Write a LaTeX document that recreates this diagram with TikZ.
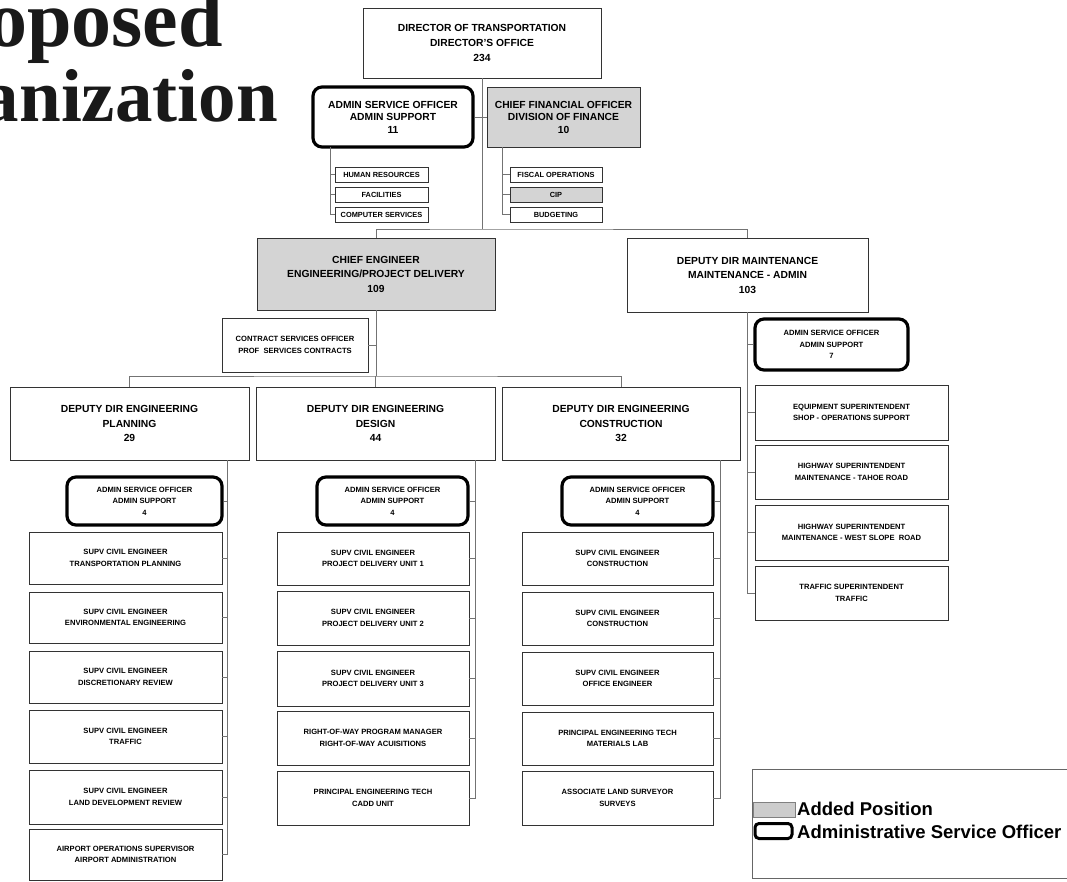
\documentclass[tikz,border=0pt]{standalone}
\usepackage{fontspec}
\setmainfont{Liberation Sans}
\newfontfamily\tms{Liberation Serif}
\usetikzlibrary{shadows}
\newcommand\obox[7]{\node[#6, minimum width={(#4-#2)*1pt}, minimum height={(#5-#3)*1pt}] (#1) at ({(#2+#4)/2},{(#3+#5)/2}) {#7};}
\tikzset{
  bx/.style={draw=black!80, line width=0.7pt, fill=white, align=center, inner sep=0pt,
    drop shadow={shadow xshift=1.3pt, shadow yshift=-1.3pt, fill=black!70, opacity=1}},
  gr/.style={bx, fill=black!17},
  aso/.style={draw=black, line width=3.2pt, rounded corners=9pt, fill=white, align=center, inner sep=0pt},
  ln/.style={draw=black!55, line width=0.8pt},
  fA/.style={font=\bfseries\fontsize{10.3}{15}\selectfont},
  fB/.style={font=\bfseries\fontsize{10.3}{12.5}\selectfont},
  fC/.style={font=\bfseries\fontsize{10.3}{14.5}\selectfont},
  fS/.style={font=\bfseries\fontsize{7.4}{9}\selectfont},
  fL/.style={font=\bfseries\fontsize{7.6}{11.5}\selectfont},
  ttl/.style={anchor=base east, inner sep=0pt, text=black!90},
}
\begin{document}
\begin{tikzpicture}[x=1pt,y=-1pt]
\useasboundingbox (0,0) rectangle (1067,882);
\clip (0,0) rectangle (1067,882);
\fill[white] (0,0) rectangle (1067,882);
% title
\node[ttl, font=\tms\bfseries\fontsize{80}{80}\selectfont] (t1) at (223,47) {oposed};
\node[ttl, font=\tms\bfseries\fontsize{75}{75}\selectfont] (t2) at (278,122) {anization};
% top level
\obox{dir}{363}{8}{601}{78}{bx,fA}{DIRECTOR OF TRANSPORTATION\\DIRECTOR'S OFFICE\\234}
\obox{aso0}{313}{87}{473}{147}{aso,fB}{ADMIN SERVICE OFFICER\\ADMIN SUPPORT\\11}
\obox{cfo}{487}{87}{640}{147}{gr,fB}{CHIEF FINANCIAL OFFICER\\DIVISION OF FINANCE\\10}
\obox{hr}{335}{167}{428}{182}{bx,fS}{HUMAN RESOURCES}
\obox{fac}{335}{187}{428}{202}{bx,fS}{FACILITIES}
\obox{cs}{335}{207}{428}{222}{bx,fS}{COMPUTER SERVICES}
\obox{fo}{510}{167}{602}{182}{bx,fS}{FISCAL OPERATIONS}
\obox{cip}{510}{187}{602}{202}{gr,fS}{CIP}
\obox{bud}{510}{207}{602}{222}{bx,fS}{BUDGETING}
\obox{ce}{257}{238}{495}{310}{gr,fC}{CHIEF ENGINEER\\ENGINEERING/PROJECT DELIVERY\\109}
\obox{dm}{627}{238}{868}{312}{bx,fC}{DEPUTY DIR MAINTENANCE\\MAINTENANCE - ADMIN\\103}
\obox{cso}{222}{318}{368}{372}{bx,fL}{CONTRACT SERVICES OFFICER\\PROF\ \ SERVICES CONTRACTS}
\obox{dp}{10}{387}{249}{460}{bx,fC}{DEPUTY DIR ENGINEERING\\PLANNING\\29}
\obox{dd}{256}{387}{495}{460}{bx,fC}{DEPUTY DIR ENGINEERING\\DESIGN\\44}
\obox{dc}{502}{387}{740}{460}{bx,fC}{DEPUTY DIR ENGINEERING\\CONSTRUCTION\\32}
\obox{ap}{67}{477}{222}{525}{aso,fL}{ADMIN SERVICE OFFICER\\ADMIN SUPPORT\\4}
\obox{ad}{317}{477}{468}{525}{aso,fL}{ADMIN SERVICE OFFICER\\ADMIN SUPPORT\\4}
\obox{ac}{562}{477}{713}{525}{aso,fL}{ADMIN SERVICE OFFICER\\ADMIN SUPPORT\\4}
\obox{am}{755}{319}{908}{370}{aso,fL}{ADMIN SERVICE OFFICER\\ADMIN SUPPORT\\7}
% planning
\obox{p1}{29}{532}{222}{584}{bx,fL}{SUPV CIVIL ENGINEER\\TRANSPORTATION PLANNING}
\obox{p2}{29}{592}{222}{643}{bx,fL}{SUPV CIVIL ENGINEER\\ENVIRONMENTAL ENGINEERING}
\obox{p3}{29}{651}{222}{703}{bx,fL}{SUPV CIVIL ENGINEER\\DISCRETIONARY REVIEW}
\obox{p4}{29}{710}{222}{763}{bx,fL}{SUPV CIVIL ENGINEER\\TRAFFIC}
\obox{p5}{29}{770}{222}{824}{bx,fL}{SUPV CIVIL ENGINEER\\LAND DEVELOPMENT REVIEW}
\obox{p6}{29}{829}{222}{880}{bx,fL}{AIRPORT OPERATIONS SUPERVISOR\\AIRPORT ADMINISTRATION}
% design
\obox{d1}{277}{532}{469}{585}{bx,fL}{SUPV CIVIL ENGINEER\\PROJECT DELIVERY UNIT 1}
\obox{d2}{277}{591}{469}{645}{bx,fL}{SUPV CIVIL ENGINEER\\PROJECT DELIVERY UNIT 2}
\obox{d3}{277}{651}{469}{706}{bx,fL}{SUPV CIVIL ENGINEER\\PROJECT DELIVERY UNIT 3}
\obox{d4}{277}{711}{469}{765}{bx,fL}{RIGHT-OF-WAY PROGRAM MANAGER\\RIGHT-OF-WAY ACUISITIONS}
\obox{d5}{277}{771}{469}{825}{bx,fL}{PRINCIPAL ENGINEERING TECH\\CADD UNIT}
% construction
\obox{c1}{522}{532}{713}{585}{bx,fL}{SUPV CIVIL ENGINEER\\CONSTRUCTION}
\obox{c2}{522}{592}{713}{645}{bx,fL}{SUPV CIVIL ENGINEER\\CONSTRUCTION}
\obox{c3}{522}{652}{713}{705}{bx,fL}{SUPV CIVIL ENGINEER\\OFFICE ENGINEER}
\obox{c4}{522}{712}{713}{765}{bx,fL}{PRINCIPAL ENGINEERING TECH\\MATERIALS LAB}
\obox{c5}{522}{771}{713}{825}{bx,fL}{ASSOCIATE LAND SURVEYOR\\SURVEYS}
% maintenance
\obox{m1}{755}{385}{948}{440}{bx,fL}{EQUIPMENT SUPERINTENDENT\\SHOP - OPERATIONS SUPPORT}
\obox{m2}{755}{445}{948}{499}{bx,fL}{HIGHWAY SUPERINTENDENT\\MAINTENANCE - TAHOE ROAD}
\obox{m3}{755}{505}{948}{560}{bx,fL}{HIGHWAY SUPERINTENDENT\\MAINTENANCE - WEST SLOPE\ \ ROAD}
\obox{m4}{755}{566}{948}{620}{bx,fL}{TRAFFIC SUPERINTENDENT\\TRAFFIC}
% connectors
\coordinate (bus1) at (482,229);
\coordinate (bus2) at (376,376);
\coordinate (ah) at (330,147);
\coordinate (fh) at (502,147);
\coordinate (pl) at (227,460);
\coordinate (dl) at (475,460);
\coordinate (cl) at (720,460);
\draw[ln] (dir.south) -- (bus1);
\draw[ln] (aso0.east) -- (cfo.west);
\draw[ln] (ce.north) |- (bus1) -| (dm.north);
\draw[ln] (ah) |- (cs.west);
\draw[ln] (hr.west) -- (hr.west -| ah);
\draw[ln] (fac.west) -- (fac.west -| ah);
\draw[ln] (fh) |- (bud.west);
\draw[ln] (fo.west) -- (fo.west -| fh);
\draw[ln] (cip.west) -- (cip.west -| fh);
\draw[ln] (ce.south) -- (bus2);
\draw[ln] (cso.east) -- (cso.east -| bus2);
\draw[ln] (dp.north) |- (bus2) -| (dc.north);
\draw[ln] (dd.north) -- (dd.north |- bus2);
\draw[ln] (pl) |- (p6.east);
\foreach \n in {ap,p1,p2,p3,p4,p5} \draw[ln] (\n.east) -- (\n.east -| pl);
\draw[ln] (dl) |- (d5.east);
\foreach \n in {ad,d1,d2,d3,d4} \draw[ln] (\n.east) -- (\n.east -| dl);
\draw[ln] (cl) |- (c5.east);
\foreach \n in {ac,c1,c2,c3,c4} \draw[ln] (\n.east) -- (\n.east -| cl);
\draw[ln] (dm.south) |- (m4.west);
\foreach \n in {am,m1,m2,m3} \draw[ln] (\n.west) -- (\n.west -| dm.south);
% legend
\draw[draw=black!60, line width=0.8pt] (1075,769) -- (752,769) -- (752,878) -- (1075,878);
\node[draw=black!50, fill=black!20, line width=0.6pt, minimum width=42pt, minimum height=15pt, inner sep=0pt] (sw1) at (774,809.5) {};
\node[draw=black, line width=3pt, rounded corners=4pt, minimum width=37pt, minimum height=15pt, inner sep=0pt] (sw2) at (773.5,831) {};
\node[font=\bfseries\fontsize{18.5}{20}\selectfont, anchor=base west, inner sep=0pt] (lt1) at (797,815) {Added Position};
\node[font=\bfseries\fontsize{18.5}{20}\selectfont, anchor=base west, inner sep=0pt] (lt2) at (797,838) {Administrative Service Officer};
\end{tikzpicture}
\end{document}
